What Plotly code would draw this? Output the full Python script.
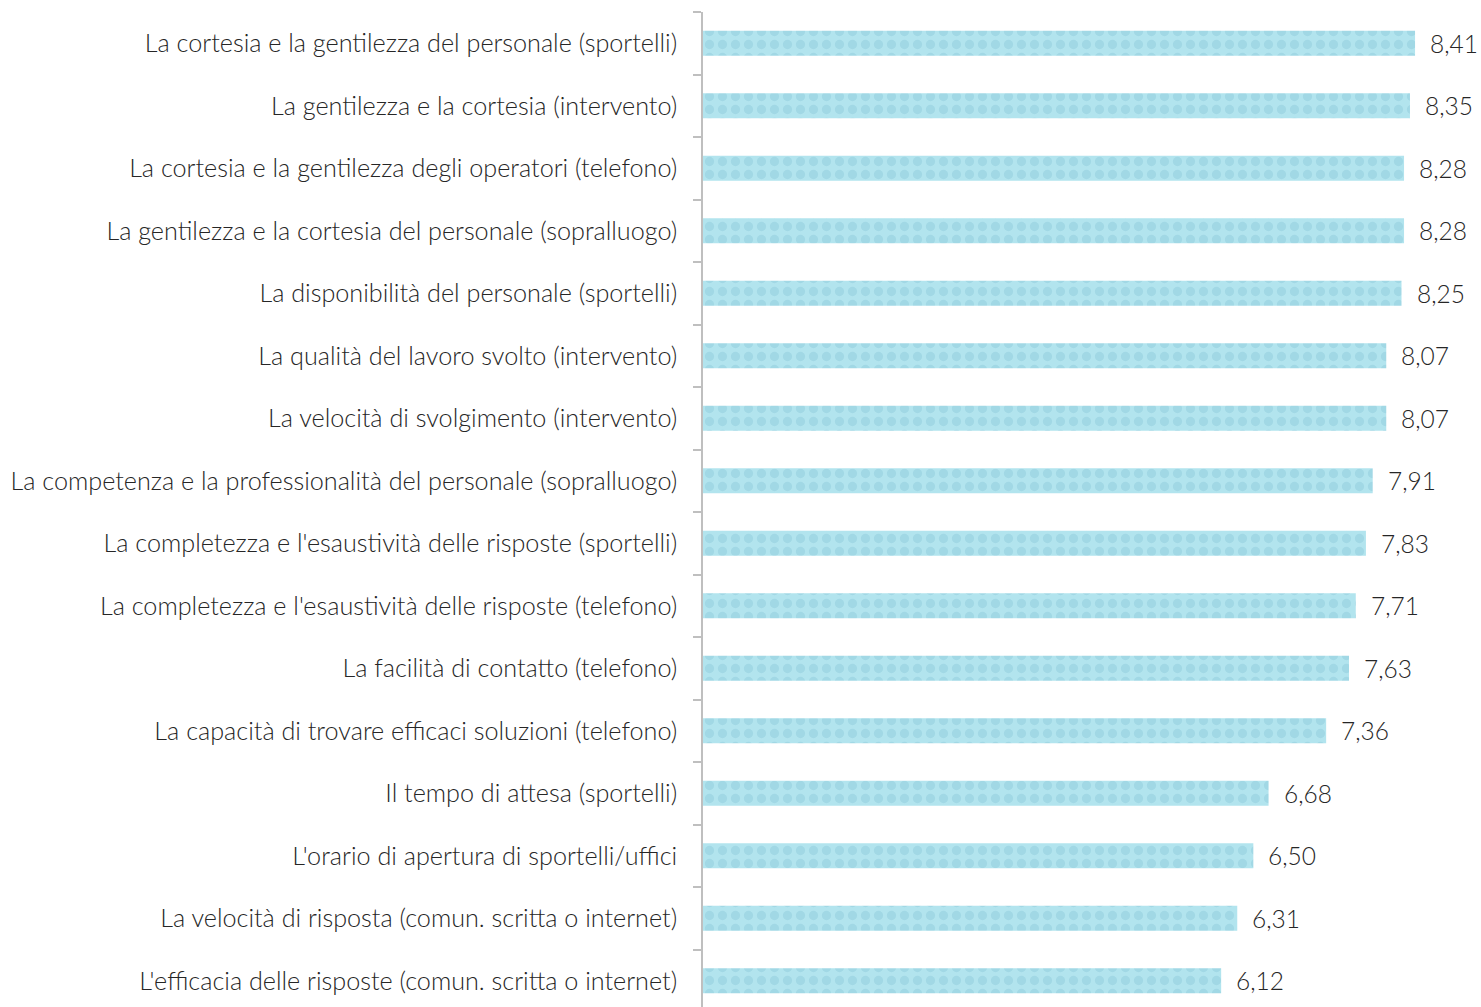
import plotly.graph_objects as go

categories = [
    "La cortesia e la gentilezza del personale (sportelli)",
    "La gentilezza e la cortesia (intervento)",
    "La cortesia e la gentilezza degli operatori (telefono)",
    "La gentilezza e la cortesia del personale (sopralluogo)",
    "La disponibilità del personale (sportelli)",
    "La qualità del lavoro svolto (intervento)",
    "La velocità di svolgimento (intervento)",
    "La competenza e la professionalità del personale (sopralluogo)",
    "La completezza e l'esaustività delle risposte (sportelli)",
    "La completezza e l'esaustività delle risposte (telefono)",
    "La facilità di contatto (telefono)",
    "La capacità di trovare efficaci soluzioni (telefono)",
    "Il tempo di attesa (sportelli)",
    "L'orario di apertura di sportelli/uffici",
    "La velocità di risposta (comun. scritta o internet)",
    "L'efficacia delle risposte (comun. scritta o internet)",
]
values = [8.41, 8.35, 8.28, 8.28, 8.25, 8.07, 8.07, 7.91, 7.83, 7.71, 7.63, 7.36, 6.68, 6.50, 6.31, 6.12]
value_labels = [f"{v:.2f}".replace(".", ",") for v in values]

FONT = "Lato, 'Open Sans', sans-serif"
TXT = "#262626"
FS = 25.2

fig = go.Figure()
fig.add_trace(go.Bar(
    x=values, y=categories, orientation="h",
    marker=dict(
        color="#B2E4EE",
        line=dict(width=0),
        pattern=dict(shape=".", fillmode="overlay", fgcolor="#86C6D6",
                     fgopacity=0.4, size=13, solidity=0.4),
    ),
    hoverinfo="skip",
))

for v, lab, cat in zip(values, value_labels, categories):
    fig.add_annotation(x=v, y=cat, text=lab, xanchor="left", xshift=13,
                       showarrow=False,
                       font=dict(family=FONT, size=24.5, color=TXT, weight=300))

fig.update_layout(
    width=1481, height=1007,
    margin=dict(l=703, r=16, t=12, b=0),
    paper_bgcolor="white", plot_bgcolor="white",
    bargap=0.6,
    showlegend=False,
    font=dict(family=FONT, size=FS, color=TXT, weight=300),
)
fig.update_xaxes(range=[0, 9], visible=False, fixedrange=True)
fig.update_yaxes(
    range=[15.42, -0.5],
    showline=True, linecolor="#BFBFBF", linewidth=1.5,
    ticks="outside", tickson="boundaries", ticklen=8, tickcolor="#BFBFBF", tickwidth=1.5,
    ticklabelstandoff=19,
    tickfont=dict(family=FONT, size=FS, color=TXT, weight=300),
    showgrid=False, zeroline=False,
)

fig.write_html("out.html")
